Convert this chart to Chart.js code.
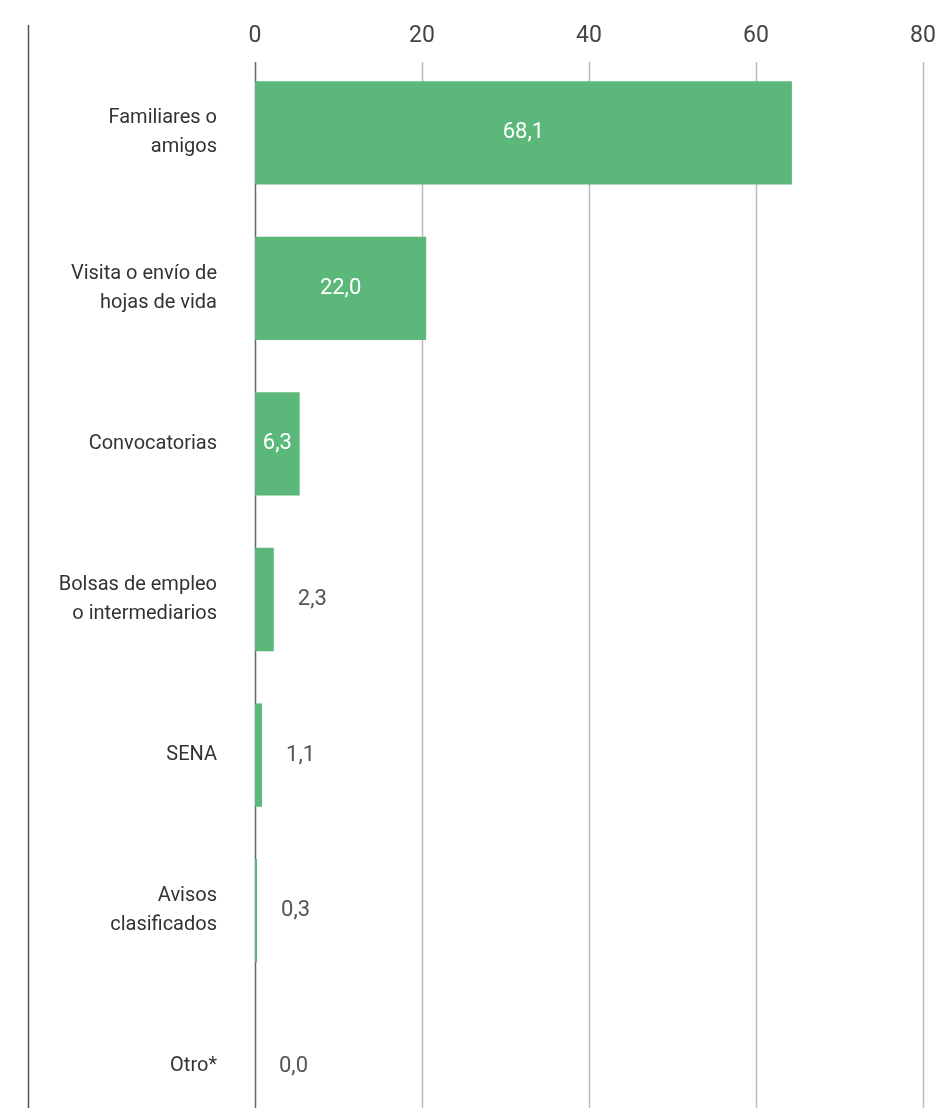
<!DOCTYPE html>
<html>
<head>
<meta charset="utf-8">
<script src="https://cdn.jsdelivr.net/npm/chart.js@4"></script>
<style>
  html, body { margin: 0; padding: 0; background: #fff; overflow: hidden; }
  #wrap { width: 937px; height: 1108px; overflow: hidden; }
</style>
</head>
<body>
<div id="wrap"><canvas id="chart" width="937" height="1173"></canvas></div>
<script>
// Data
const categories = [
  ["Familiares o", "amigos"],
  ["Visita o envío de", "hojas de vida"],
  ["Convocatorias"],
  ["Bolsas de empleo", "o intermediarios"],
  ["SENA"],
  ["Avisos", "clasificados"],
  ["Otro*"],
];
// bar lengths as drawn
const barValues = [64.3, 20.5, 5.35, 2.25, 0.85, 0.25, 0];
// printed value labels
const valueLabels = ["68,1", "22,0", "6,3", "2,3", "1,1", "0,3", "0,0"];
const xTicks = [0, 20, 40, 60, 80];

const FONT = "Roboto, 'DejaVu Sans', sans-serif";
const BAR_COLOR = "#5cb87a";

// vertical grid lines + left separator
const gridPlugin = {
  id: "gridLines",
  beforeDatasetsDraw(chart) {
    const { ctx, chartArea, scales } = chart;
    const x = scales.x;
    ctx.save();
    // left separator line
    ctx.strokeStyle = "#555";
    ctx.lineWidth = 1.5;
    ctx.beginPath();
    ctx.moveTo(28.5, 25);
    ctx.lineTo(28.5, chart.height);
    ctx.stroke();
    xTicks.forEach((v) => {
      const px = Math.round(x.getPixelForValue(v)) + 0.5;
      ctx.strokeStyle = v === 0 ? "#666" : "#bbb";
      ctx.lineWidth = 1.5;
      ctx.beginPath();
      ctx.moveTo(px, chartArea.top + 7);
      ctx.lineTo(px, chart.height);
      ctx.stroke();
    });
    ctx.restore();
  },
};

// value labels: inside (white) when they fit, else to the right
const valuePlugin = {
  id: "valueLabels",
  afterDatasetsDraw(chart) {
    const { ctx } = chart;
    const meta = chart.getDatasetMeta(0);
    ctx.save();
    ctx.font = "22px " + FONT;
    ctx.textBaseline = "middle";
    meta.data.forEach((bar, i) => {
      const text = valueLabels[i];
      const w = ctx.measureText(text).width;
      const len = bar.x - bar.base;
      if (len > w + 8) {
        ctx.fillStyle = "#fff";
        ctx.textAlign = "center";
        ctx.fillText(text, (bar.x + bar.base) / 2, bar.y);
      } else {
        ctx.fillStyle = "#555";
        ctx.textAlign = "left";
        ctx.fillText(text, bar.x + 24, bar.y);
      }
    });
    ctx.restore();
  },
};

new Chart(document.getElementById("chart"), {
  type: "bar",
  data: {
    labels: categories,
    datasets: [{
      data: barValues,
      backgroundColor: BAR_COLOR,
      borderWidth: 0,
      categoryPercentage: 1,
      barPercentage: 0.664,
    }],
  },
  options: {
    indexAxis: "y",
    responsive: false,
    animation: false,
    devicePixelRatio: 1,
    layout: { padding: { top: 0, right: 14, bottom: 0, left: 0 } },
    plugins: { legend: { display: false }, tooltip: { enabled: false } },
    scales: {
      x: {
        position: "top",
        min: 0,
        max: 80,
        afterBuildTicks: (scale) => { scale.ticks = xTicks.map((v) => ({ value: v })); },
        afterFit: (scale) => { scale.height = 55; },
        grid: { display: false, drawTicks: true, tickLength: 5 },
        border: { display: false },
        ticks: {
          padding: 0,
          color: "#444",
          font: { family: FONT, size: 23 },
        },
      },
      y: {
        afterFit: (scale) => { scale.width = 255; },
        grid: { display: false, drawTicks: true, tickLength: 38 },
        border: { display: false },
        ticks: {
          padding: 0,
          color: "#333",
          font: { family: FONT, size: 20, lineHeight: 1.45 },
        },
      },
    },
  },
  plugins: [gridPlugin, valuePlugin],
});
</script>
</body>
</html>
